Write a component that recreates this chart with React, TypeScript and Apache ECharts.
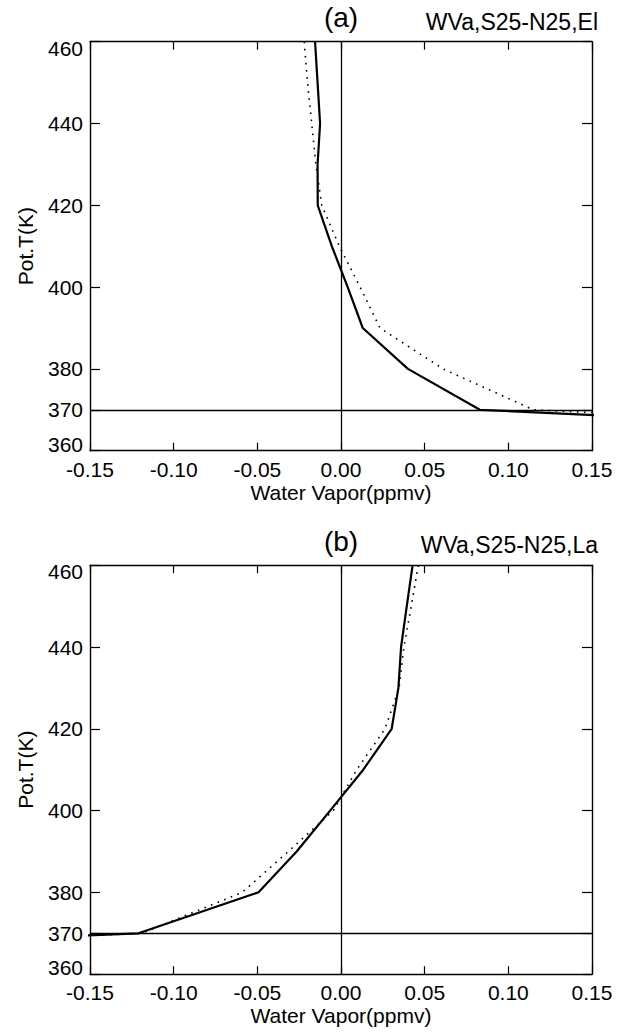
import React, { useEffect, useRef } from "react";
import * as echarts from "echarts";

// Potential temperature levels (K)
const THETA = [460, 450, 440, 430, 420, 410, 400, 390, 380, 370, 360];
// Panel (a) El Nino composite, water vapour anomaly (ppmv)
const EL_SOLID = [-0.0155, -0.014, -0.0125, -0.014, -0.0139, -0.0055, 0.004, 0.013, 0.040, 0.083, 0.6];
const EL_DOTTED = [-0.022, -0.020, -0.0175, -0.015, -0.0115, -0.001, 0.0114, 0.0233, 0.061, 0.115, 0.62];
// Panel (b) La Nina composite
const LA_SOLID = [0.0428, 0.0393, 0.0359, 0.0343, 0.0303, 0.0133, -0.0065, -0.0265, -0.0494, -0.121, -0.7];
const LA_DOTTED = [0.0462, 0.042, 0.0376, 0.0347, 0.0263, 0.0094, -0.0046, -0.0315, -0.059, -0.119, -0.69];

const Y_TICKS = [360, 370, 380, 400, 420, 440, 460];
const X_MIN = -0.15;
const X_MAX = 0.15;
const X_STEP = 0.05;
const Y_MIN = 360;
const Y_MAX = 460;
const ZERO_X = 0;
const REF_THETA = 370;

const PANELS = [
  { tag: "(a)", label: "WVa,S25-N25,El", solid: EL_SOLID, dotted: EL_DOTTED },
  { tag: "(b)", label: "WVa,S25-N25,La", solid: LA_SOLID, dotted: LA_DOTTED },
];

const FONT = "'Liberation Sans', Arial, Helvetica, sans-serif";

export default function App() {
  const ref = useRef<HTMLDivElement>(null);
  useEffect(() => {
    if (!ref.current) return;
    const chart = echarts.init(ref.current, undefined, { renderer: "svg" });
    const gridLeft = 90;
    const gridWidth = 502;
    const gridHeight = 409;
    const tops = [41.7, 565.2];

    const grids: any[] = [];
    const xAxes: any[] = [];
    const yAxes: any[] = [];
    const series: any[] = [];
    const graphics: any[] = [];

    const tickLabelRich = {
      lo: { padding: [0, 0, 13, 0], fontSize: 21, fontFamily: FONT, color: "#000" },
      hi: { padding: [13, 0, 0, 0], fontSize: 21, fontFamily: FONT, color: "#000" },
      mid: { fontSize: 21, fontFamily: FONT, color: "#000" },
    };

    PANELS.forEach((p, i) => {
      grids.push({
        left: gridLeft,
        top: tops[i],
        width: gridWidth,
        height: gridHeight,
        containLabel: false,
        outerBoundsMode: "none",
        show: false,
      });
      const axisLine = { show: true, onZero: false, lineStyle: { color: "#000", width: 1.4 } };
      // bottom x axis
      xAxes.push({
        type: "value",
        gridIndex: i,
        position: "bottom",
        min: X_MIN,
        max: X_MAX,
        interval: X_STEP,
        axisLine,
        axisTick: { show: true, inside: true, length: 8, lineStyle: { color: "#000", width: 1.2 } },
        axisLabel: {
          show: true,
          margin: 8,
          fontSize: 21,
          fontFamily: FONT,
          color: "#000",
          formatter: (v: number) => v.toFixed(2),
        },
        splitLine: { show: false },
        name: "Water Vapor(ppmv)",
        nameLocation: "middle",
        nameGap: 31,
        nameTextStyle: { fontSize: 21, fontFamily: FONT, color: "#000" },
      });
      // top x axis (mirror)
      xAxes.push({
        type: "value",
        gridIndex: i,
        position: "top",
        min: X_MIN,
        max: X_MAX,
        interval: X_STEP,
        axisLine,
        axisTick: { show: true, inside: true, length: 8, lineStyle: { color: "#000", width: 1.2 } },
        axisLabel: { show: false },
        splitLine: { show: false },
      });
      // left y axis
      yAxes.push({
        type: "value",
        gridIndex: i,
        position: "left",
        min: Y_MIN,
        max: Y_MAX,
        axisLine,
        axisTick: { show: true, inside: true, length: 10, customValues: Y_TICKS, lineStyle: { color: "#000", width: 1.2 } },
        axisLabel: {
          show: true,
          margin: 7,
          fontSize: 21,
          fontFamily: FONT,
          color: "#000",
          customValues: Y_TICKS,
          formatter: (v: number) =>
            v === Y_MIN ? `{lo|${v}}` : v === Y_MAX ? `{hi|${v}}` : `{mid|${v}}`,
          rich: tickLabelRich,
        },
        splitLine: { show: false },
        name: "Pot.T(K)",
        nameLocation: "middle",
        nameGap: 54,
        nameTextStyle: { fontSize: 21, fontFamily: FONT, color: "#000" },
      });
      // right y axis (mirror)
      yAxes.push({
        type: "value",
        gridIndex: i,
        position: "right",
        min: Y_MIN,
        max: Y_MAX,
        axisLine,
        axisTick: { show: true, inside: true, length: 10, customValues: Y_TICKS, lineStyle: { color: "#000", width: 1.2 } },
        axisLabel: { show: false, customValues: Y_TICKS },
        splitLine: { show: false },
      });

      const xi = i * 2;
      const yi = i * 2;
      series.push({
        type: "line",
        xAxisIndex: xi,
        yAxisIndex: yi,
        data: p.dotted.map((v, k) => [v, THETA[k]]),
        symbol: "none",
        clip: true,
        lineStyle: { color: "#000", width: 1.6, type: [1.6, 5.5], cap: "butt" },
        z: 3,
      });
      series.push({
        type: "line",
        xAxisIndex: xi,
        yAxisIndex: yi,
        data: p.solid.map((v, k) => [v, THETA[k]]),
        symbol: "none",
        clip: true,
        lineStyle: { color: "#000", width: 2.2, type: "solid" },
        z: 4,
        markLine: {
          silent: true,
          symbol: "none",
          label: { show: false },
          lineStyle: { color: "#000", width: 1.3, type: "solid" },
          data: [{ xAxis: ZERO_X }, { yAxis: REF_THETA }],
        },
      });

      const top = tops[i];
      graphics.push({
        type: "text",
        x: gridLeft + gridWidth / 2,
        y: top - 24,
        style: {
          text: p.tag,
          font: `28px ${FONT}`,
          fill: "#000",
          textAlign: "center",
          textVerticalAlign: "middle",
        },
      });
      graphics.push({
        type: "text",
        x: 598,
        y: top - 20,
        style: {
          text: p.label,
          font: `23px ${FONT}`,
          fill: "#000",
          textAlign: "right",
          textVerticalAlign: "middle",
        },
      });
    });

    chart.setOption({
      animation: false,
      backgroundColor: "#fff",
      grid: grids,
      xAxis: xAxes,
      yAxis: yAxes,
      series,
      graphic: graphics,
    });
    return () => chart.dispose();
  }, []);

  return (
    <div
      ref={ref}
      style={{ position: "fixed", left: 0, top: 0, width: 617, height: 1035, background: "#fff" }}
    />
  );
}
